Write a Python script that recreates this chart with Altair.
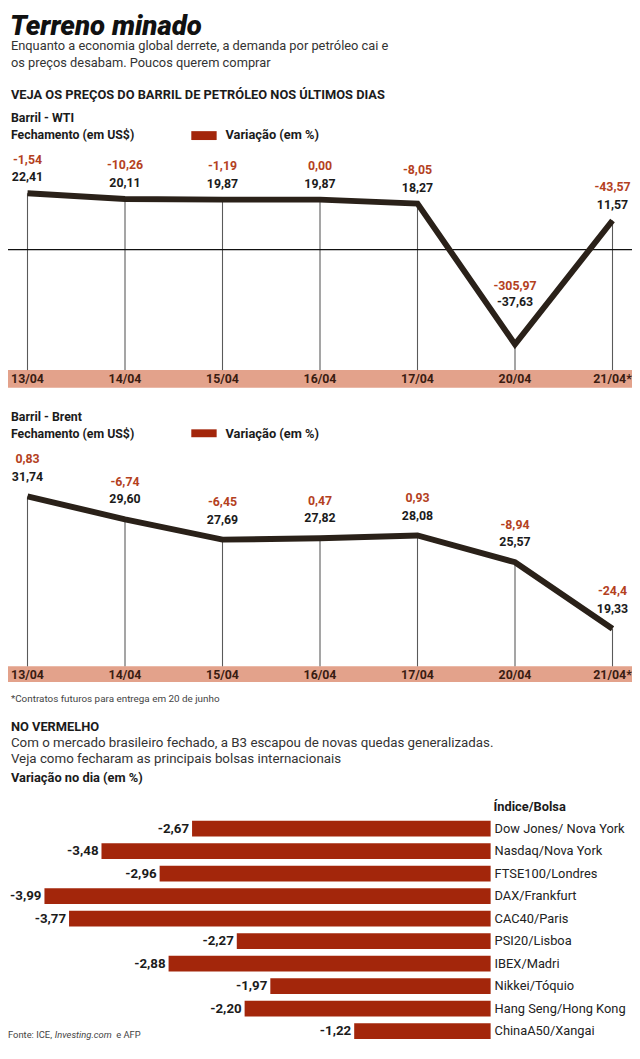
import altair as alt
import pandas as pd

# ---------------- data ----------------
dates = ["13/04", "14/04", "15/04", "16/04", "17/04", "20/04", "21/04*"]
wti_price = [22.41, 20.11, 19.87, 19.87, 18.27, -37.63, 11.57]
wti_var = ["-1,54", "-10,26", "-1,19", "0,00", "-8,05", "-305,97", "-43,57"]
brent_price = [31.74, 29.60, 27.69, 27.82, 28.08, 25.57, 19.33]
brent_var = ["0,83", "-6,74", "-6,45", "0,47", "0,93", "-8,94", "-24,4"]
indices = ["Dow Jones/ Nova York", "Nasdaq/Nova York", "FTSE100/Londres", "DAX/Frankfurt",
           "CAC40/Paris", "PSI20/Lisboa", "IBEX/Madri", "Nikkei/Tóquio",
           "Hang Seng/Hong Kong", "ChinaA50/Xangai"]
index_change = [-2.67, -3.48, -2.96, -3.99, -3.77, -2.27, -2.88, -1.97, -2.20, -1.22]

# ---------------- style ----------------
FONT = "Roboto, sans-serif"
BLACK = "#1b1b1b"
RED_TXT = "#b4411e"
BAR = "#a3260b"
BAND = "#e3a28b"
LINE = "#2a2119"
W, H = 632, 1050
K = W / 640.0


def X(r):
    return r * K


def Y(r):
    return r - 8


def fmt(v):
    return f"{v:.2f}".replace(".", ",")


one = pd.DataFrame({"a": [0]})


def txt(text, x, y, size, weight="normal", color=BLACK, style="normal", align="left"):
    return alt.Chart(one).mark_text(
        text=text, fontSize=size, fontWeight=weight, fontStyle=style, font=FONT,
        color=color, align=align, baseline="alphabetic"
    ).encode(x=alt.value(X(x)), y=alt.value(Y(y)))


def box(x1, x2, y1, y2, color):
    return alt.Chart(one).mark_rect(color=color).encode(
        x=alt.value(X(x1)), x2=alt.value(X(x2)), y=alt.value(Y(y1)), y2=alt.value(Y(y2)))


# ---------------- line panels ----------------
def line_panel(prices, variations, y_of, dom, band_top, band_bot, zero_line, dy_lbl):
    df = pd.DataFrame({"date": dates, "price": prices, "var": variations,
                       "plabel": [fmt(v) for v in prices]})
    ysc = alt.Scale(domain=dom, range=[Y(y_of(dom[0])), Y(y_of(dom[1]))], zero=False, nice=False)
    xenc = alt.X("date:N", sort=dates, axis=None,
                 scale=alt.Scale(type="point", domain=dates, range=[X(0), X(640)], padding=0.2))
    yenc = alt.Y("price:Q", scale=ysc, axis=None)
    base = alt.Chart(df).encode(x=xenc)
    lbl = dict(font=FONT, fontSize=12.5, fontWeight="bold", baseline="middle")
    layers = [
        box(0, 640, band_top, band_bot, BAND),
        base.mark_rule(color="#5a5a5a", strokeWidth=1.1).encode(y=yenc, y2=alt.value(Y(band_top))),
    ]
    if zero_line:
        layers.append(alt.Chart(one).mark_rule(color="#111111", strokeWidth=1.3).encode(
            x=alt.value(X(0)), x2=alt.value(X(640)), y=alt.Y(datum=0, scale=ysc, axis=None)))
    layers += [
        base.mark_line(color=LINE, strokeWidth=6, strokeJoin="miter").encode(y=yenc),
        base.transform_filter("datum.price >= 0").mark_text(color=BLACK, dy=dy_lbl, **lbl)
        .encode(y=yenc, text="plabel:N"),
        base.transform_filter("datum.price >= 0").mark_text(color=RED_TXT, dy=dy_lbl - 18, **lbl)
        .encode(y=yenc, text="var:N"),
        base.transform_filter("datum.price < 0").mark_text(color=BLACK, dy=-43, **lbl)
        .encode(y=yenc, text="plabel:N"),
        base.transform_filter("datum.price < 0").mark_text(color=RED_TXT, dy=-59, **lbl)
        .encode(y=yenc, text="var:N"),
        base.mark_text(font=FONT, fontSize=12.5, fontWeight="bold", color="#3a1c12",
                       baseline="middle").encode(
            y=alt.value(Y((band_top + band_bot) / 2 + 0.5)), text="date:N"),
    ]
    return alt.layer(*layers)


wti_layer = line_panel(wti_price, wti_var, lambda v: 246 - 2.549 * v, [-40, 25], 368, 386,
                       True, -16)
brent_layer = line_panel(brent_price, brent_var, lambda v: 496 + (31.74 - v) * 10.798, [15, 35],
                         668, 684, False, -20)

# ---------------- bar panel ----------------
bdf = pd.DataFrame({"idx": indices, "val": index_change,
                    "lbl": [fmt(v) for v in index_change]})
bx = alt.Scale(domain=[-4.316, 0], range=[X(0), X(495)], zero=False, nice=False)
by = alt.Scale(domain=indices, range=[Y(821), Y(1049)], paddingInner=0.3, paddingOuter=0.15)
bbase = alt.Chart(bdf).encode(y=alt.Y("idx:N", sort=indices, scale=by, axis=None))
bar_layer = alt.layer(
    bbase.mark_bar(color=BAR).encode(x=alt.X("val:Q", scale=bx, axis=None), x2=alt.datum(0)),
    bbase.mark_text(font=FONT, fontSize=13.5, fontWeight="bold", color=BLACK, align="right",
                    baseline="middle", dx=-3).encode(
        x=alt.X("val:Q", scale=bx, axis=None), text="lbl:N"),
    bbase.mark_text(font=FONT, fontSize=13, color="#222222", align="left",
                    baseline="middle", dx=4).encode(
        x=alt.X(datum=0, scale=bx, axis=None), text="idx:N"),
)

# ---------------- headings ----------------
heads = alt.layer(
    txt("Terreno minado", 2, 29, 28, weight=900, style="italic", color="#111111"),
    txt("Enquanto a economia global derrete, a demanda por petróleo cai e", 3, 44, 13, color="#333333"),
    txt("os preços desabam. Poucos querem comprar", 3, 61, 13, color="#333333"),
    txt("VEJA OS PREÇOS DO BARRIL DE PETRÓLEO NOS ÚLTIMOS DIAS", 3, 93, 13, weight="bold"),
    txt("Barril - WTI", 3, 117, 12.5, weight="bold"),
    txt("Fechamento (em US$)", 3, 134, 12.5, weight="bold"),
    box(188, 214, 126, 135, BAR),
    txt("Variação (em %)", 223, 134, 13, weight="bold"),
    txt("Barril - Brent", 3, 420, 12.5, weight="bold"),
    txt("Fechamento (em US$)", 3, 437, 12.5, weight="bold"),
    box(188, 214, 428, 436, BAR),
    txt("Variação (em %)", 223, 437, 13, weight="bold"),
    txt("*Contratos futuros para entrega em 20 de junho", 3, 704, 10, color="#444444"),
    txt("NO VERMELHO", 3, 734, 13, weight="bold"),
    txt("Com o mercado brasileiro fechado, a B3 escapou de novas quedas generalizadas.", 3, 750, 13.5, color="#333333"),
    txt("Veja como fecharam as principais bolsas internacionais", 3, 766, 13.5, color="#333333"),
    txt("Variação no dia (em %)", 3, 785, 13, weight="bold"),
    txt("Índice/Bolsa", 498, 815, 13, weight="bold"),
    txt("Fonte: ICE,", 0, 1044, 9.5, color="#444444"),
    txt("Investing.com", 48, 1044, 9.5, color="#444444", style="italic"),
    txt("e AFP", 111, 1044, 9.5, color="#444444"),
)

chart = alt.layer(wti_layer, brent_layer, bar_layer, heads).resolve_scale(
    x="independent", y="independent"
).properties(
    width=W, height=H, padding=0, autosize=alt.AutoSizeParams(type="none")
).configure_view(stroke=None)

chart.save("out.html", embed_options={"renderer": "svg", "actions": False})
